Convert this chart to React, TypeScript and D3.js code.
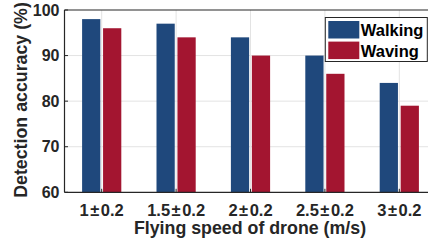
import React from "react";
import * as d3 from "d3";

const categories = ["1±0.2", "1.5±0.2", "2±0.2", "2.5±0.2", "3±0.2"];
const seriesNames = ["Walking", "Waving"];
const walking = [98, 97, 94, 90, 84];
const waving = [96, 94, 90, 86, 79];
const yTicks = [60, 70, 80, 90, 100];
const colors = ["#1f487c", "#a31530"];

export default function App() {
  const W = 428, H = 241;
  const left = 64.5, right = 436.5, top = 10, bottom = 192.3;
  const x = d3.scaleBand<string>().domain(categories).range([left, right]).padding(0);
  const sub = d3.scaleBand<string>().domain(seriesNames).range([-19.6, 19.6]).paddingInner(0.13);
  const y = d3.scaleLinear().domain([60, 100]).range([bottom, top]);
  const series = [walking, waving];
  const font = "'Liberation Sans', Arial, Helvetica, sans-serif";
  const axisColor = "#262626";
  const center = (c: string) => (x(c) as number) + x.bandwidth() / 2;

  return (
    <svg width={W} height={H} style={{ position: "absolute", left: 0, top: 0, background: "#fff" }} fontFamily={font}>
      <defs>
        <clipPath id="clipAll"><rect x={0} y={0} width={W} height={H} /></clipPath>
      </defs>
      <g clipPath="url(#clipAll)">
        {/* gridlines */}
        {yTicks.slice(1, -1).map((t) => (
          <line key={"gy" + t} x1={left} x2={right} y1={y(t)} y2={y(t)} stroke="#e3e3e3" strokeWidth={1} />
        ))}
        {categories.map((c) => (
          <line key={"gx" + c} x1={center(c)} x2={center(c)} y1={top} y2={bottom} stroke="#e3e3e3" strokeWidth={1} />
        ))}
        {/* bars */}
        {categories.map((c, i) =>
          seriesNames.map((s, j) => {
            const v = series[j][i];
            return (
              <rect
                key={c + s}
                x={center(c) + (sub(s) as number)}
                y={y(v)}
                width={sub.bandwidth()}
                height={bottom - y(v)}
                fill={colors[j]}
              />
            );
          })
        )}
        {/* axes box */}
        <line x1={left} x2={right} y1={top} y2={top} stroke={axisColor} strokeWidth={1.2} />
        <line x1={left} x2={right} y1={bottom} y2={bottom} stroke={axisColor} strokeWidth={1.2} />
        <line x1={left} x2={left} y1={top} y2={bottom} stroke={axisColor} strokeWidth={1.2} />
        {/* ticks */}
        {yTicks.map((t) => (
          <line key={"ty" + t} x1={left} x2={left + 3.5} y1={y(t)} y2={y(t)} stroke={axisColor} strokeWidth={1} />
        ))}
        {categories.map((c) => (
          <line key={"tx" + c} x1={center(c)} x2={center(c)} y1={bottom} y2={bottom - 3.5} stroke={axisColor} strokeWidth={1} />
        ))}
        {/* tick labels */}
        {yTicks.map((t) => (
          <text key={"ly" + t} x={left - 5} y={y(t)} dy="0.36em" textAnchor="end" fontSize={16} fontWeight="bold" fill={axisColor}>
            {t}
          </text>
        ))}
        {categories.map((c) => {
          const parts = c.split("±");
          return (
            <text key={"lx" + c} x={center(c)} y={216} textAnchor="middle" fontSize={16.5} fontWeight="bold" fill={axisColor}>
              <tspan>{parts[0]}</tspan>
              <tspan dx={1.5}>±</tspan>
              <tspan dx={1.5}>{parts[1]}</tspan>
            </text>
          );
        })}
        {/* axis labels */}
        <text x={250} y={233.5} textAnchor="middle" fontSize={17.8} fontWeight="bold" fill={axisColor}>
          Flying speed of drone (m/s)
        </text>
        <text transform="translate(26.5,100) rotate(-90)" textAnchor="middle" fontSize={17.8} fontWeight="bold" fill={axisColor}>
          Detection accuracy (%)
        </text>
        {/* legend */}
        <rect x={325.3} y={17.5} width={102} height={44} fill="#fff" stroke={axisColor} strokeWidth={1} />
        {seriesNames.map((s, j) => (
          <g key={"lg" + s}>
            <rect x={328.3} y={21 + j * 20.6} width={31} height={17.5} fill={colors[j]} />
            <text x={360.8} y={36 + j * 20.6} fontSize={16.5} fontWeight="bold" fill="#000">
              {s}
            </text>
          </g>
        ))}
      </g>
    </svg>
  );
}
